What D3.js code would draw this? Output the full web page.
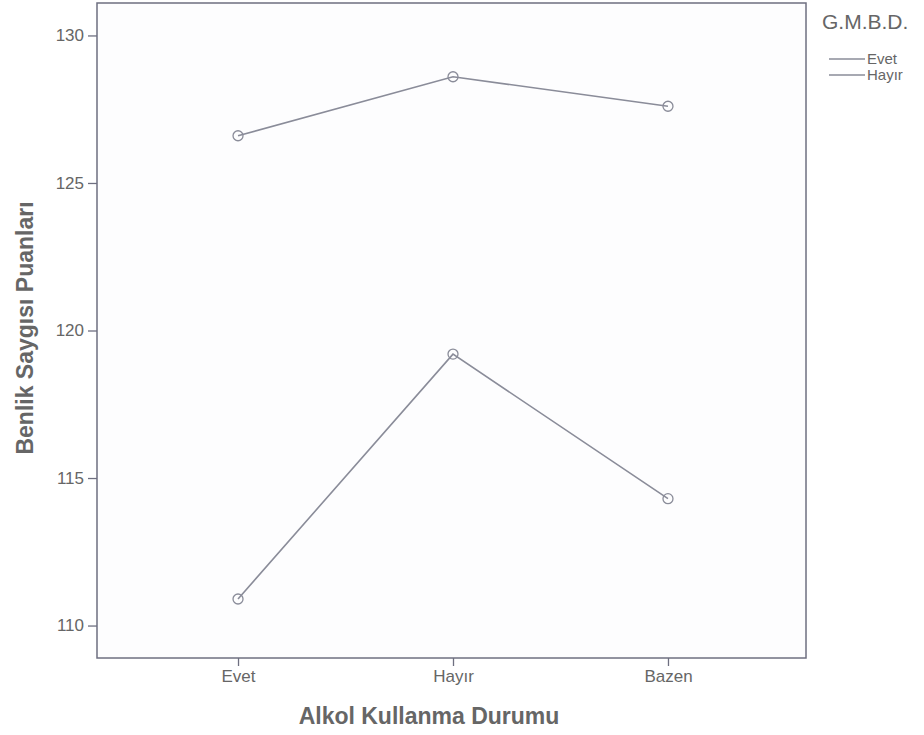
<!DOCTYPE html>
<html>
<head>
<meta charset="utf-8">
<script src="https://cdn.jsdelivr.net/npm/d3@7"></script>
<style>
    body { margin: 0; background: #fff; }
    svg { font-family: "Liberation Sans", Arial, sans-serif; }
</style>
</head>
<body>
<div id="chart"></div>
<script>
// Kategoriler ve seriler
const categories = ["Evet", "Hayır", "Bazen"];
const seriesNames = ["Evet", "Hayır"];
const evetValues = [126.6, 128.6, 127.6];
const hayirValues = [110.9, 119.2, 114.3];
const yTicks = [110, 115, 120, 125, 130];

const width = 924, height = 735;
const plot = { left: 97, right: 806, top: 3, bottom: 658 };

const svg = d3.select("#chart")
    .append("svg")
    .attr("width", width)
    .attr("height", height);

// Scale-funktioner
const xScale = d3.scalePoint()
    .domain(categories)
    .range([100, plot.right])
    .padding(0.642);

const yScale = d3.scaleLinear()
    .domain([108.9, 131.1])
    .range([plot.bottom, plot.top]);

// plot ramme
svg.append("rect")
    .attr("x", plot.left)
    .attr("y", plot.top)
    .attr("width", plot.right - plot.left)
    .attr("height", plot.bottom - plot.top)
    .attr("fill", "#fdfdfe")
    .attr("stroke", "#6e6f80")
    .attr("stroke-width", 1.5);

// Y akse
const yAxis = svg.append("g")
    .attr("transform", `translate(${plot.left},0)`)
    .call(d3.axisLeft(yScale).tickValues(yTicks).tickSize(9).tickPadding(4));
yAxis.select(".domain").remove();
yAxis.selectAll("line").attr("stroke", "#6e6f80").attr("stroke-width", 1.3);
yAxis.selectAll("text").attr("fill", "#666").attr("font-size", 17);

// X akse
const xAxis = svg.append("g")
    .attr("transform", `translate(0,${plot.bottom})`)
    .call(d3.axisBottom(xScale).tickSize(8).tickPadding(4));
xAxis.select(".domain").remove();
xAxis.selectAll("line").attr("stroke", "#6e6f80").attr("stroke-width", 1.3);
xAxis.selectAll("text").attr("fill", "#666").attr("font-size", 17);

// Akse titler
svg.append("text")
    .attr("x", 429)
    .attr("y", 724)
    .attr("text-anchor", "middle")
    .attr("font-size", 23)
    .attr("font-weight", "bold")
    .attr("fill", "#666")
    .text("Alkol Kullanma Durumu");

svg.append("text")
    .attr("transform", `translate(33,328) rotate(-90)`)
    .attr("text-anchor", "middle")
    .attr("font-size", 23)
    .attr("font-weight", "bold")
    .attr("fill", "#666")
    .text("Benlik Saygısı Puanları");

// Linjer
const series = [evetValues, hayirValues];
const line = d3.line()
    .x((d, i) => xScale(categories[i]))
    .y(d => yScale(d));

series.forEach(function (values) {
    svg.append("path")
        .datum(values)
        .attr("fill", "none")
        .attr("stroke", "#8a8c99")
        .attr("stroke-width", 1.6)
        .attr("d", line);

    svg.selectAll(null)
        .data(values)
        .enter()
        .append("circle")
        .attr("cx", (d, i) => xScale(categories[i]))
        .attr("cy", d => yScale(d))
        .attr("r", 5)
        .attr("fill", "none")
        .attr("stroke", "#8a8c99")
        .attr("stroke-width", 1.3);
});

// Legend
svg.append("text")
    .attr("x", 822)
    .attr("y", 29)
    .attr("font-size", 21)
    .attr("fill", "#666")
    .text("G.M.B.D.");

seriesNames.forEach(function (name, i) {
    const y = 59 + i * 16;
    svg.append("line")
        .attr("x1", 829).attr("x2", 865)
        .attr("y1", y).attr("y2", y)
        .attr("stroke", "#8a8c99")
        .attr("stroke-width", 1.3);
    svg.append("text")
        .attr("x", 867)
        .attr("y", y + 5)
        .attr("font-size", 15)
        .attr("fill", "#666")
        .text(name);
});
</script>
</body>
</html>
